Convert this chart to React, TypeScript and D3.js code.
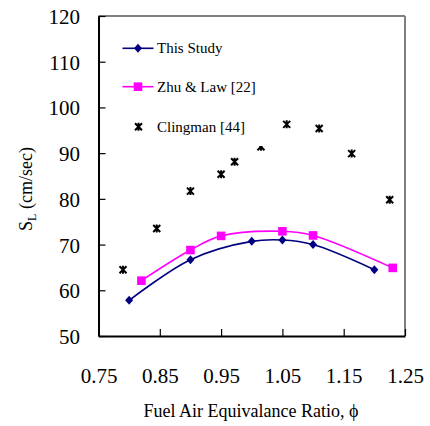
import React, { useRef, useEffect } from 'react';
import * as d3 from 'd3';

// phi (x) and laminar burning velocity S_L in cm/sec (y)
const thisStudyPhi = [0.8, 0.9, 1.0, 1.05, 1.1, 1.2];
const thisStudySL = [57.8, 66.7, 70.7, 71.0, 70.0, 64.5];

const zhuLawPhi = [0.82, 0.9, 0.95, 1.05, 1.1, 1.23];
const zhuLawSL = [62.1, 68.8, 71.9, 72.9, 72.0, 64.9];

const clingmanPhi = [0.79, 0.845, 0.9, 0.95, 0.972, 1.015, 1.057, 1.11, 1.163, 1.225];
const clingmanSL = [64.5, 73.5, 81.7, 85.4, 88.1, 91.4, 96.3, 95.4, 89.9, 79.8];

const xTicks = [0.75, 0.85, 0.95, 1.05, 1.15, 1.25];
const yTicks = [50, 60, 70, 80, 90, 100, 110, 120];

const seriesNames = ['This Study', 'Zhu & Law [22]', 'Clingman [44]'];

const W = 430;
const H = 426;
const FONT = '"Liberation Serif", "DejaVu Serif", "Times New Roman", serif';

const App = () => {
    const svgRef = useRef<SVGSVGElement>(null);

    useEffect(() => {
        const svg = d3.select(svgRef.current);
        svg.selectAll('*').remove();

        const x = d3.scaleLinear().domain([0.75, 1.25]).range([98.5, 405]);
        const y = d3.scaleLinear().domain([50, 120]).range([336, 16]);

        svg.append('rect').attr('width', W).attr('height', H).attr('fill', '#fff');

        // plot frame: black top, grey right
        svg.append('line')
            .attr('x1', x(0.75)).attr('x2', x(1.25))
            .attr('y1', y(120)).attr('y2', y(120))
            .attr('stroke', '#000').attr('stroke-width', 1.2);
        svg.append('line')
            .attr('x1', x(1.25)).attr('x2', x(1.25))
            .attr('y1', y(120)).attr('y2', y(50))
            .attr('stroke', '#808080').attr('stroke-width', 2);

        // y axis, ticks pointing inward
        const yAxis = svg.append('g')
            .attr('transform', `translate(${x(0.75)},0)`)
            .call(d3.axisLeft(y).tickValues(yTicks).tickSizeInner(-7).tickSizeOuter(0).tickFormat(d3.format('d')));
        yAxis.attr('font-family', FONT);
        yAxis.select('.domain').attr('stroke', '#000').attr('stroke-width', 2);
        yAxis.selectAll('.tick line').attr('stroke', '#000').attr('stroke-width', 1.2);
        yAxis.selectAll('.tick text')
            .attr('x', -18.5)
            .attr('dy', '0.36em')
            .attr('font-family', FONT)
            .attr('font-size', 21)
            .attr('fill', '#000');

        // x axis
        const xAxis = svg.append('g')
            .attr('transform', `translate(0,${y(50)})`)
            .call(d3.axisBottom(x).tickValues(xTicks).tickSizeInner(-7).tickSizeOuter(0).tickFormat(d3.format('.2f')));
        xAxis.attr('font-family', FONT);
        xAxis.select('.domain').attr('stroke', '#000').attr('stroke-width', 2);
        xAxis.selectAll('.tick line').attr('stroke', '#000').attr('stroke-width', 1.2);
        xAxis.selectAll('.tick text')
            .attr('y', 47)
            .attr('dy', 0)
            .attr('font-family', FONT)
            .attr('font-size', 21)
            .attr('fill', '#000');

        // axis titles
        svg.append('text')
            .attr('x', 251).attr('y', 416.5)
            .attr('text-anchor', 'middle')
            .attr('font-family', FONT).attr('font-size', 18)
            .text('Fuel Air Equivalance Ratio, \u03D5');

        const yTitle = svg.append('text')
            .attr('transform', 'translate(32,189) rotate(-90)')
            .attr('text-anchor', 'middle')
            .attr('font-family', FONT).attr('font-size', 18);
        yTitle.append('tspan').text('S');
        yTitle.append('tspan').attr('dy', 4).attr('font-size', 12).text('L');
        yTitle.append('tspan').attr('dy', -4).text(' (cm/sec)');

        const line = d3.line<[number, number]>()
            .curve(d3.curveCatmullRom.alpha(0.5))
            .x(d => x(d[0]))
            .y(d => y(d[1]));

        const thisStudy = thisStudyPhi.map((p, i) => [p, thisStudySL[i]] as [number, number]);
        const zhuLaw = zhuLawPhi.map((p, i) => [p, zhuLawSL[i]] as [number, number]);
        const clingman = clingmanPhi.map((p, i) => [p, clingmanSL[i]] as [number, number]);

        const diamond = (g, cx, cy) => g.append('path')
            .attr('d', `M${cx},${cy - 4.5}L${cx + 4},${cy}L${cx},${cy + 4.5}L${cx - 4},${cy}Z`)
            .attr('fill', '#000080');
        const square = (g, cx, cy) => g.append('rect')
            .attr('x', cx - 4.3).attr('y', cy - 4.3)
            .attr('width', 8.6).attr('height', 8.6)
            .attr('fill', '#FF00FF');
        const star = (g, cx, cy) => g.append('path')
            .attr('d', `M${cx - 3.5},${cy - 3.5}L${cx + 3.5},${cy + 3.5}M${cx + 3.5},${cy - 3.5}L${cx - 3.5},${cy + 3.5}M${cx},${cy - 4}L${cx},${cy + 4}`)
            .attr('stroke', '#000').attr('stroke-width', 2).attr('fill', 'none');

        // Clingman markers (drawn before legend, one point sits under it)
        const cg = svg.append('g');
        clingman.forEach(d => star(cg, x(d[0]), y(d[1])));

        svg.append('path').datum(zhuLaw)
            .attr('fill', 'none').attr('stroke', '#FF00FF').attr('stroke-width', 1.6)
            .attr('d', line);
        const zg = svg.append('g');
        zhuLaw.forEach(d => square(zg, x(d[0]), y(d[1])));

        svg.append('path').datum(thisStudy)
            .attr('fill', 'none').attr('stroke', '#000080').attr('stroke-width', 1.6)
            .attr('d', line);
        const tg = svg.append('g');
        thisStudy.forEach(d => diamond(tg, x(d[0]), y(d[1])));

        // legend
        const lg = svg.append('g');
        lg.append('rect')
            .attr('x', 112).attr('y', 26).attr('width', 158).attr('height', 120)
            .attr('fill', '#fff');
        const rowsY = [48.3, 86.7, 126.7];
        const colors = ['#000080', '#FF00FF', null];
        rowsY.forEach((ry, i) => {
            if (colors[i]) {
                lg.append('line')
                    .attr('x1', 122.5).attr('x2', 153.5).attr('y1', ry).attr('y2', ry)
                    .attr('stroke', colors[i]).attr('stroke-width', 1.6);
            }
            if (i === 0) diamond(lg, 138, ry);
            if (i === 1) square(lg, 138, ry);
            if (i === 2) star(lg, 138.5, ry);
            lg.append('text')
                .attr('x', 157).attr('y', ry).attr('dy', '0.33em')
                .attr('font-family', FONT).attr('font-size', 15)
                .text(seriesNames[i]);
        });
    }, []);

    return (
        <svg ref={svgRef} width={W} height={H} style={{ position: 'absolute', left: 0, top: 0 }} />
    );
};

export default App;
